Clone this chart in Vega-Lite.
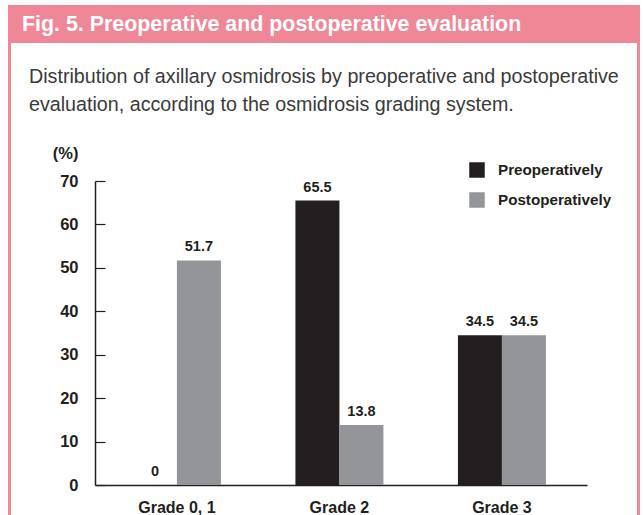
{
  "$schema": "https://vega.github.io/schema/vega-lite/v6.json",
  "background": "white",
  "padding": {"left": 8, "top": 5, "right": 0, "bottom": 0},
  "spacing": -5,
  "align": "none",
  "resolve": {"legend": {"color": "independent"}, "scale": {"color": "independent"}},
  "config": {"view": {"stroke": null}, "font": "Liberation Sans"},
  "vconcat": [
    {
      "width": 632,
      "height": 38,
      "view": {"fill": "#f08796", "stroke": null},
      "data": {"values": [{"title": "Fig. 5. Preoperative and postoperative evaluation"}]},
      "mark": {"type": "text", "align": "left", "baseline": "middle", "dx": 14, "dy": 1, "font": "Liberation Sans", "fontSize": 21.4, "fontWeight": "bold", "color": "white"},
      "encoding": {
        "x": {"datum": 0, "type": "quantitative", "scale": {"domain": [0, 1]}, "axis": null},
        "y": {"datum": 0.5, "type": "quantitative", "scale": {"domain": [0, 1]}, "axis": null},
        "text": {"field": "title"}
      }
    },
    {
      "spacing": 18,
      "align": "none",
      "resolve": {"legend": {"color": "independent"}, "scale": {"color": "independent", "x": "independent", "y": "independent"}},
      "hconcat": [
        {
          "width": 3,
          "height": 304,
          "data": {"values": [{"t": ""}]},
          "mark": {"type": "rect", "color": "#f08796", "opacity": 1},
          "encoding": {
            "x": {"datum": 0, "type": "quantitative", "scale": {"domain": [0, 1], "nice": false}, "axis": null},
            "x2": {"datum": 1},
            "y": {"datum": 1.47, "type": "quantitative", "scale": {"domain": [0, 1], "nice": false, "zero": false}, "axis": null},
            "y2": {"datum": -0.15}
          }
        },
        {
          "width": 492,
          "height": 304,
          "title": {
            "text": ["", "Distribution of axillary osmidrosis by preoperative and postoperative", "evaluation, according to the osmidrosis grading system."],
            "anchor": "start",
            "frame": "group",
            "dx": -66,
            "font": "Liberation Sans",
            "fontSize": 19.7,
            "fontWeight": "normal",
            "color": "#3a3a3a",
            "lineHeight": 28,
            "offset": 30
          },
          "data": {
            "values": [
              {"grade": "Grade 0, 1", "phase": "Preoperatively", "value": 0},
              {"grade": "Grade 0, 1", "phase": "Postoperatively", "value": 51.7},
              {"grade": "Grade 2", "phase": "Preoperatively", "value": 65.5},
              {"grade": "Grade 2", "phase": "Postoperatively", "value": 13.8},
              {"grade": "Grade 3", "phase": "Preoperatively", "value": 34.5},
              {"grade": "Grade 3", "phase": "Postoperatively", "value": 34.5}
            ]
          },
          "encoding": {
            "x": {
              "field": "grade", "type": "nominal",
              "sort": ["Grade 0, 1", "Grade 2", "Grade 3"],
              "scale": {"paddingInner": 0.4585, "paddingOuter": 0.243, "align": 0.48},
              "axis": {"title": null, "ticks": false, "domain": true, "domainColor": "#231f20", "domainWidth": 1.5, "labelAngle": 0, "labelFont": "Liberation Sans", "labelFontWeight": "bold", "labelFontSize": 16, "labelColor": "#231f20", "labelPadding": 14}
            },
            "y": {
              "field": "value", "type": "quantitative",
              "scale": {"domain": [0, 70], "nice": false},
              "axis": {
                "values": [0, 10, 20, 30, 40, 50, 60, 70], "grid": false,
                "domain": true, "domainColor": "#231f20", "domainWidth": 1.5,
                "ticks": true, "tickSize": -10, "tickColor": "#231f20", "tickWidth": 1.2,
                "labelFont": "Liberation Sans", "labelFontWeight": "bold", "labelFontSize": 16.5, "labelColor": "#231f20", "labelPadding": 27,
                "title": "(%)", "titleAngle": 0, "titleAlign": "right", "titleBaseline": "middle", "titleX": -17, "titleY": -28,
                "titleFont": "Liberation Sans", "titleFontSize": 16.5, "titleFontWeight": "bold", "titleColor": "#231f20"
              }
            },
            "xOffset": {"field": "phase", "type": "nominal", "sort": ["Preoperatively", "Postoperatively"]}
          },
          "layer": [
            {
              "mark": {"type": "bar"},
              "encoding": {
                "color": {
                  "field": "phase", "type": "nominal",
                  "scale": {"domain": ["Preoperatively", "Postoperatively"], "range": ["#231f20", "#939598"]},
                  "legend": {"title": null, "orient": "none", "legendX": 374, "legendY": -19, "symbolType": "square", "symbolSize": 240, "symbolStrokeWidth": 0, "symbolOpacity": 1, "labelFont": "Liberation Sans", "labelFontSize": 15.2, "labelFontWeight": "bold", "labelColor": "#231f20", "labelOffset": 13, "rowPadding": 13}
                }
              }
            },
            {
              "mark": {"type": "text", "baseline": "alphabetic", "dy": -9, "font": "Liberation Sans", "fontSize": 14.5, "fontWeight": "bold", "color": "#231f20"},
              "encoding": {"text": {"field": "value", "type": "quantitative"}}
            }
          ]
        },
        {
          "width": 3,
          "height": 304,
          "data": {"values": [{"t": ""}]},
          "mark": {"type": "rect", "color": "#f08796", "opacity": 1},
          "encoding": {
            "x": {"datum": 0, "type": "quantitative", "scale": {"domain": [0, 1], "nice": false}, "axis": null},
            "x2": {"datum": 1},
            "y": {"datum": 1.47, "type": "quantitative", "scale": {"domain": [0, 1], "nice": false, "zero": false}, "axis": null},
            "y2": {"datum": -0.15}
          }
        }
      ]
    }
  ]
}
